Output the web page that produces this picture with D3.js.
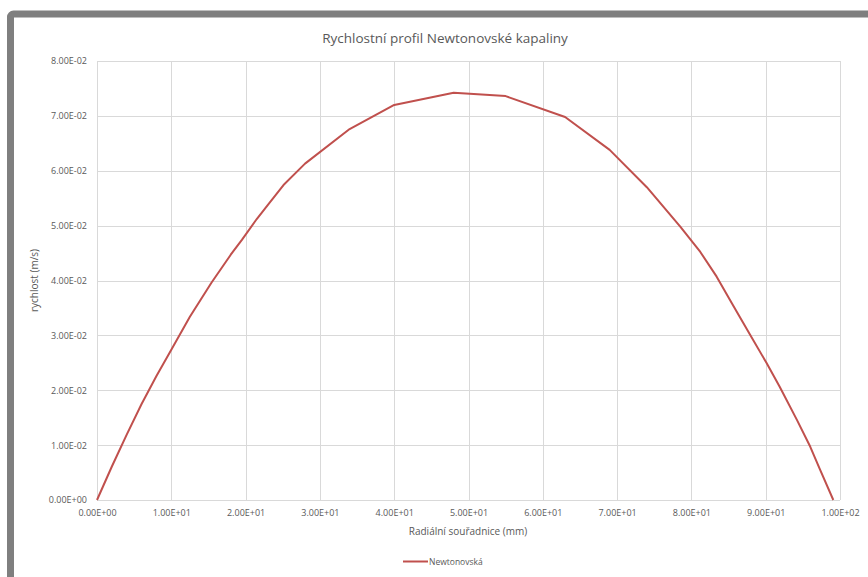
<!DOCTYPE html>
<meta charset="utf-8">
<html>
  <head>
    <style>
      body { margin: 0; background: #fff; }
      text { font-family: "Open Sans", "Noto Sans", sans-serif; fill: #595959; }
      .grid line { stroke: #d9d9d9; stroke-width: 1px; }
      .axis path, .axis line { display: none; }
      .axis text { font-size: 9px; }
    </style>
    <script src="https://cdn.jsdelivr.net/npm/d3@7"></script>
  </head>
  <body>
    <div id="chart"></div>
    <script>
      // radialni souradnice (mm) a rychlost (m/s)
      var radius = [0, 2, 4, 6, 8, 10, 12.5, 15.4, 18, 19.5, 21.5, 23, 25.1, 28, 34, 40, 48, 55, 63, 69, 74,
                    78.5, 81.2, 83.4, 85.6, 87.9, 90.1, 91.9, 94.2, 96, 97.3, 99.1];
      var speed = [0, 0.0061, 0.0119, 0.0175, 0.0226, 0.0274, 0.0334, 0.0396, 0.0447, 0.0474, 0.0512, 0.0538, 0.0574, 0.0613,
                   0.0676, 0.0720, 0.0742, 0.0736, 0.0698, 0.0638, 0.0570,
                   0.0498, 0.0452, 0.0407, 0.0355, 0.0301, 0.0250, 0.0206, 0.0146, 0.0097, 0.0056, 0];
      var xTicks = [0, 10, 20, 30, 40, 50, 60, 70, 80, 90, 100];
      var yTicks = [0, 0.01, 0.02, 0.03, 0.04, 0.05, 0.06, 0.07, 0.08];
      var seriesName = "Newtonovská";

      var W = 868, H = 577;
      var margin = { top: 61, right: 28, bottom: 77, left: 97 };
      var width = W - margin.left - margin.right,
          height = H - margin.top - margin.bottom;

      var svg = d3.select("#chart").append("svg")
          .attr("width", W)
          .attr("height", H);

      // sedy ramecek kolem grafu
      svg.append("rect")
          .attr("x", 10.5).attr("y", 14)
          .attr("width", W + 20).attr("height", H + 20)
          .attr("rx", 3)
          .style("fill", "#fff")
          .style("stroke", "#7f7f7f")
          .style("stroke-width", 7);

      var g = svg.append("g")
          .attr("transform", "translate(" + margin.left + "," + margin.top + ")");

      var x = d3.scaleLinear().domain([0, 100]).range([0, width]);
      var y = d3.scaleLinear().domain([0, 0.08]).range([height, 0]);

      function fmt(v) {
        return v.toExponential(2).replace(/e([+-])(\d)$/, "E$10$2").replace(/e/, "E").toUpperCase();
      }

      // mrizka
      g.append("g").attr("class", "grid")
        .selectAll("line").data(yTicks).enter().append("line")
          .attr("x1", 0).attr("x2", width)
          .attr("y1", function(d) { return Math.round(y(d)) + 0.5; })
          .attr("y2", function(d) { return Math.round(y(d)) + 0.5; });
      g.append("g").attr("class", "grid")
        .selectAll("line").data(xTicks).enter().append("line")
          .attr("y1", 0).attr("y2", height)
          .attr("x1", function(d) { return Math.round(x(d)) + 0.5; })
          .attr("x2", function(d) { return Math.round(x(d)) + 0.5; });

      // osy
      var xAxis = g.append("g").attr("class", "axis")
          .attr("transform", "translate(0," + height + ")")
          .call(d3.axisBottom(x).tickValues(xTicks).tickFormat(fmt).tickSize(0).tickPadding(10));
      var yAxis = g.append("g").attr("class", "axis")
          .call(d3.axisLeft(y).tickValues(yTicks).tickFormat(fmt).tickSize(0).tickPadding(10));
      xAxis.selectAll("text").style("fill", "#595959");
      yAxis.selectAll("text").style("fill", "#595959");

      // krivka
      var line = d3.line()
          .x(function(d, i) { return x(radius[i]); })
          .y(function(d) { return y(d); });
      g.append("path")
          .datum(speed)
          .attr("d", line)
          .style("fill", "none")
          .style("stroke", "#c0504d")
          .style("stroke-width", 2)
          .style("stroke-linejoin", "round");

      // titulky
      svg.append("text")
          .attr("x", 445).attr("y", 43)
          .style("text-anchor", "middle")
          .style("font-size", "13.5px")
          .text("Rychlostní profil Newtonovské kapaliny");
      svg.append("text")
          .attr("x", 468).attr("y", 535)
          .style("text-anchor", "middle")
          .style("font-size", "10px")
          .text("Radiální souřadnice (mm)");
      svg.append("text")
          .attr("transform", "translate(38," + (margin.top + height / 2) + ") rotate(-90)")
          .style("text-anchor", "middle")
          .style("font-size", "10px")
          .text("rychlost (m/s)");

      // legenda
      var legend = svg.append("g").attr("class", "legend");
      legend.append("line")
          .attr("x1", 403).attr("x2", 428)
          .attr("y1", 561.5).attr("y2", 561.5)
          .style("stroke", "#c0504d")
          .style("stroke-width", 2);
      legend.append("text")
          .attr("x", 429).attr("y", 565)
          .style("font-size", "8.5px")
          .text(seriesName);
    </script>
  </body>
</html>
